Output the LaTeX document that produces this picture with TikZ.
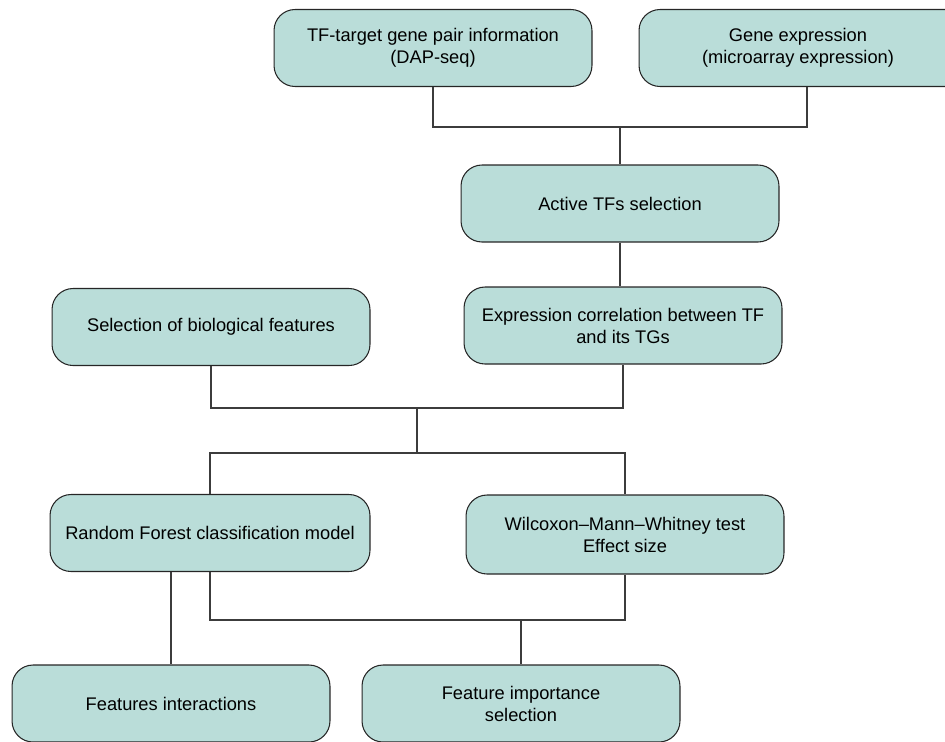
\documentclass[tikz,border=0pt]{standalone}
\usepackage{fontspec}
\setmainfont{Liberation Sans}
\usetikzlibrary{calc}

\definecolor{boxfill}{RGB}{186,221,217}
\definecolor{linegray}{RGB}{60,60,60}

\tikzset{
	stepbox/.style={draw=black!85, line width=0.6pt, fill=boxfill, rounded corners=0.42cm,
		minimum width=6.36cm, minimum height=1.54cm, inner sep=2pt, align=center,
		font=\fontsize{10.4}{12.5}\selectfont},
	link/.style={draw=linegray, line width=0.7pt}
}

\begin{document}
\begin{tikzpicture}[x=0.02cm, y=-0.02cm]
		\useasboundingbox (0,0) rectangle (945,741);
		\clip (0,0) rectangle (945,741);
		\node [stepbox] (dap) at (433,48) {TF-target gene pair information\\(DAP-seq)};
		\node [stepbox, minimum width=6.72cm] (gexp) at (807,48) {\hspace*{-0.36cm}Gene expression\\\hspace*{-0.36cm}(microarray expression)};
		\node [stepbox] (act) at (620,203.5) {Active TFs selection};
		\node [stepbox] (corr) at (623,325.5) {Expression correlation between TF\\and its TGs};
		\node [stepbox] (bio) at (211,327) {Selection of biological features};
		\node [stepbox, minimum width=6.4cm] (rf) at (210,533) {Random Forest classification model};
		\node [stepbox, minimum height=1.58cm] (wmw) at (625,534.5) {Wilcoxon--Mann--Whitney test\\Effect size};
		\node [stepbox] (fint) at (171,703.5) {Features interactions};
		\node [stepbox] (fimp) at (521,703.5) {Feature importance\\selection};
		\coordinate (j1) at (620,127);
		\coordinate (j2) at (417,408);
		\coordinate (j3) at (417,453);
		\coordinate (j4) at (521,620);
		\draw [link] (dap.south) |- (j1) -| (gexp.south);
		\draw [link] (j1) -- (act.north);
		\draw [link] (act.south) -- (act.south |- corr.north);
		\draw [link] (bio.south) |- (j2) -| (corr.south);
		\draw [link] (j2) -- (j3);
		\draw [link] (rf.north) |- (j3) -| (wmw.north);
		\draw [link] (rf.south -| fint.north) -- (fint.north);
		\draw [link] (rf.south) |- (j4) -| (wmw.south);
		\draw [link] (j4) -- (fimp.north);
		\end{tikzpicture}
\end{document}
